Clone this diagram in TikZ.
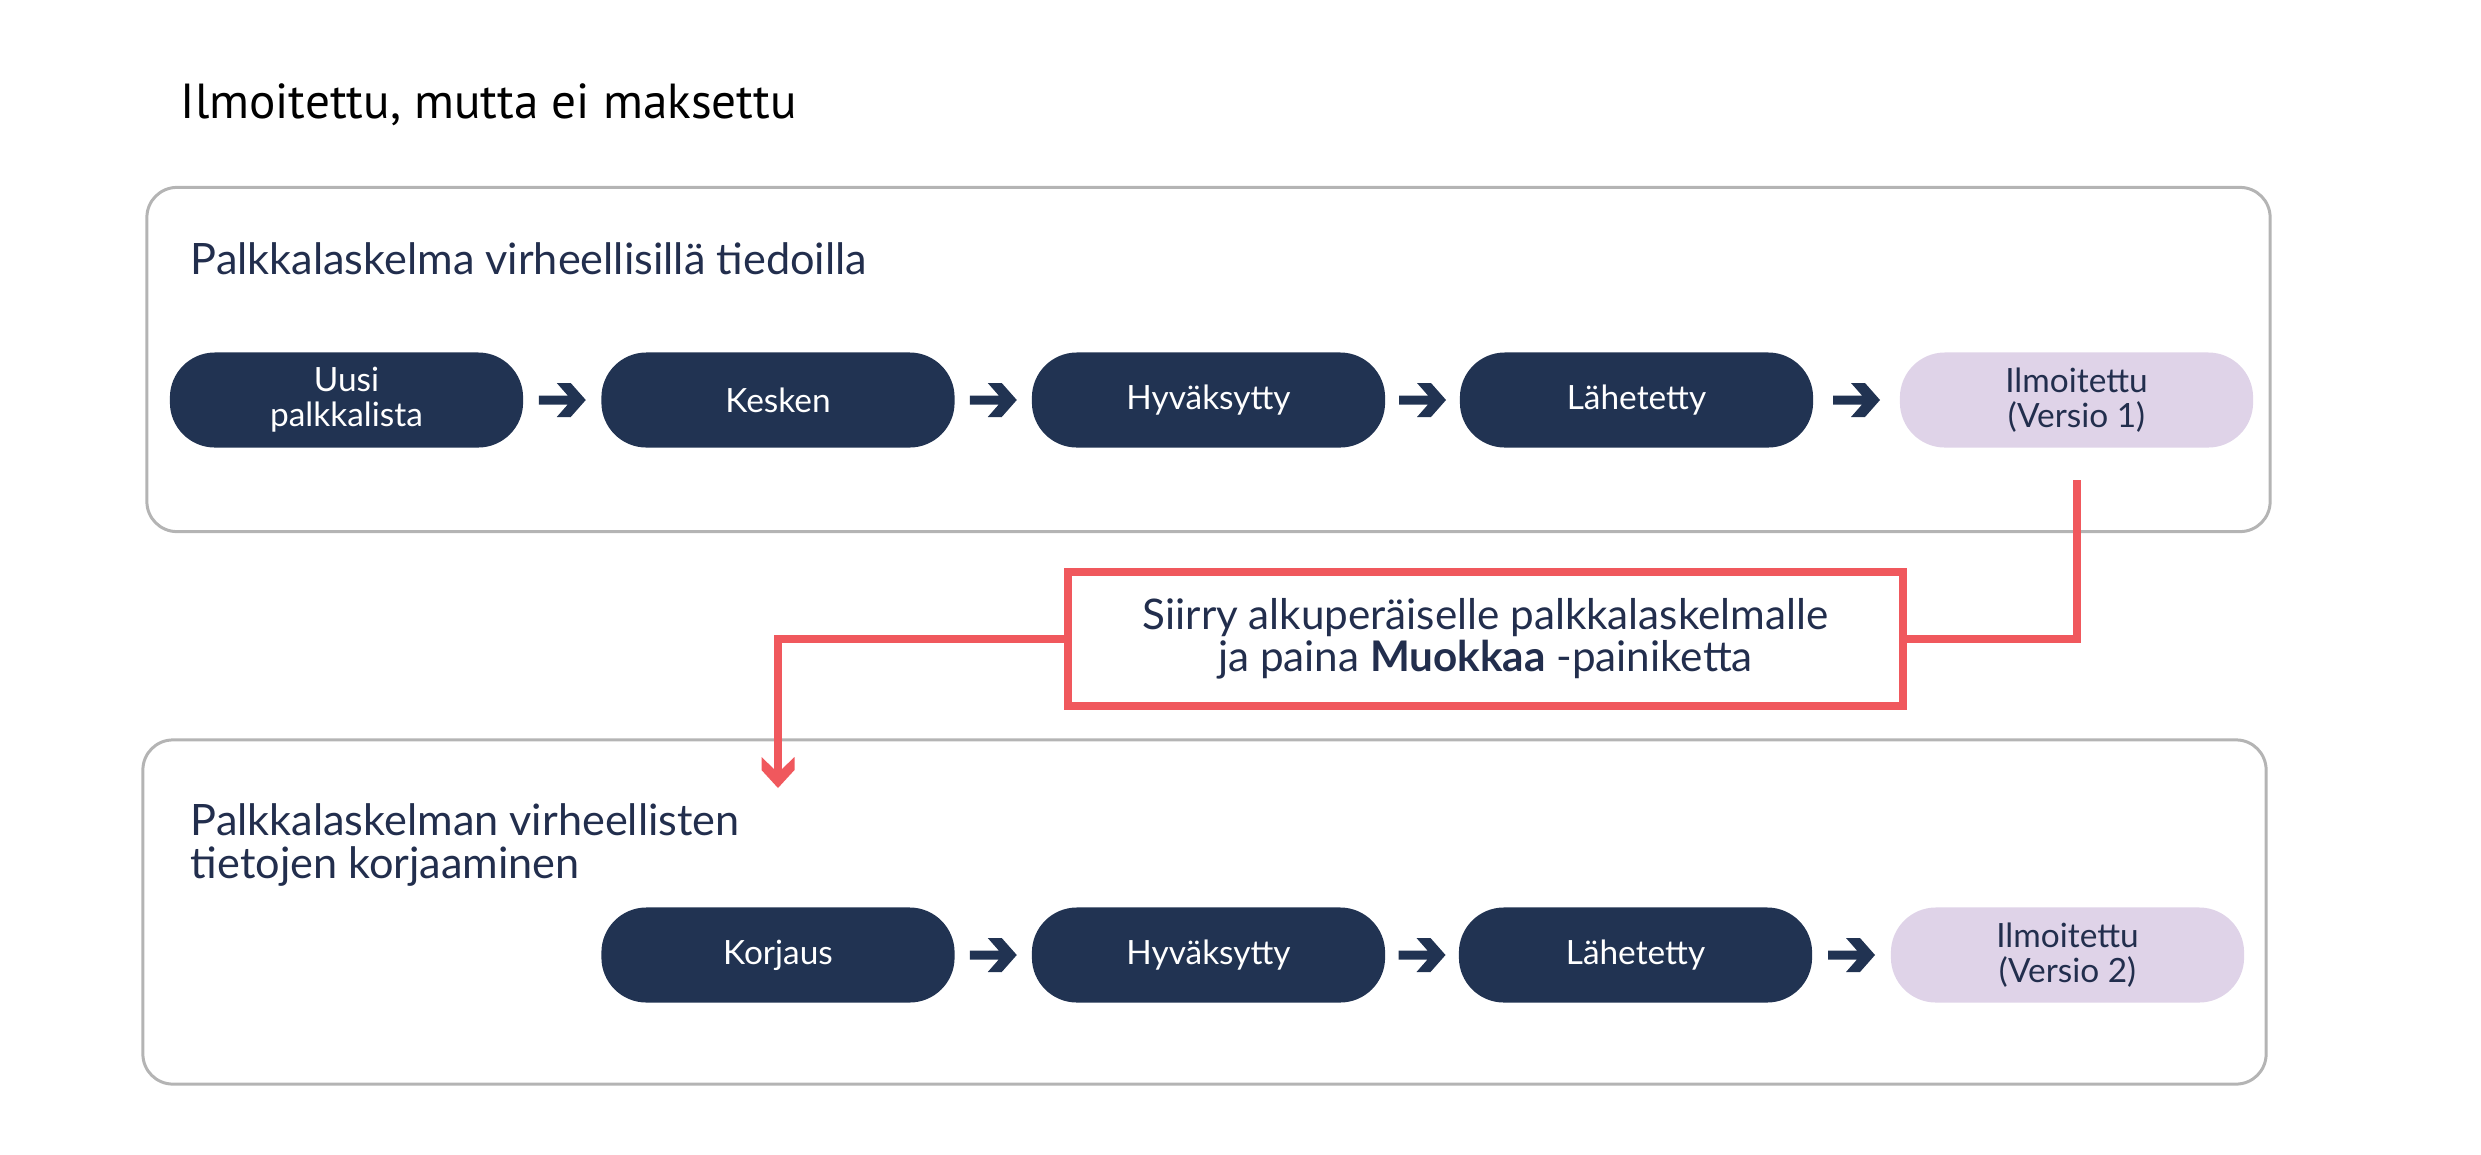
\documentclass[tikz,border=0pt]{standalone}
\usepackage{fontspec}
\setmainfont{Lato}
\newfontfamily\titlefont{PT Sans}
\usetikzlibrary{decorations.markings}
\definecolor{navy}{HTML}{213352}
\definecolor{lilac}{HTML}{DFD3E8}
\definecolor{redc}{HTML}{F0585D}
\definecolor{framec}{HTML}{B4B4B4}
\definecolor{ink}{HTML}{222E4D}
\begin{document}
\begin{tikzpicture}[x=0.01cm,y=-0.01cm,
  pill/.style={rounded corners=0.45cm, minimum width=3.53cm, minimum height=0.95cm, inner sep=0pt, align=center, font=\fontsize{9.5}{10}\selectfont},
  darkpill/.style={pill, fill=navy, text=white},
  lightpill/.style={pill, fill=lilac, text=ink},
  container/.style={draw=framec, line width=0.03cm, rounded corners=0.3cm, minimum width=21.22cm, minimum height=3.44cm, inner sep=0pt},
  heading/.style={anchor=base west, text=ink, font=\fontsize{12.3}{12}\selectfont, align=left, inner sep=0pt},
  notebox/.style={draw=redc, line width=0.08cm, fill=white, minimum width=8.35cm, minimum height=1.34cm, text=ink, align=center, inner sep=0pt, font=\fontsize{12}{12}\selectfont},
  redline/.style={draw=redc, line width=0.08cm},
  flow/.style={draw=none, postaction={decorate}, decoration={markings, mark=at position 0.5 with {\fill[navy] (-23.5,-4.5) -- (5.5,-4.5) -- (-5.5,-17) -- (8.5,-17) -- (23.5,0) -- (8.5,17) -- (-5.5,17) -- (5.5,4.5) -- (-23.5,4.5) -- cycle;}}},
  redhead/.style={postaction={decorate}, decoration={markings, mark=at position 1 with {\fill[redc] (-12,-16.5) -- (1,-16.5) -- (19,0) -- (1,16.5) -- (-12,16.5) -- (0,4) -- (0,-4) -- cycle;}}}
]
\useasboundingbox (0,0) rectangle (2481,1154);

\node[anchor=base west, inner sep=0pt, font=\titlefont\fontsize{14}{16}\selectfont] (title) at (180,118) {Ilmoitettu, mutta ei maksettu};

% containers
\node[container] (topbox) at (1208.5,359.5) {};
\node[container] (botbox) at (1204.5,912) {};

\node[heading] (h1) at (190,274) {Palkkalaskelma virheellisillä tiedoilla};
\node[heading] (h2) at (190,878) {Palkkalaskelman virheellisten\\tietojen korjaaminen};

% row 1
\node[darkpill] (a1) at (346.5,400) {Uusi\\palkkalista};
\node[darkpill] (a2) at (778,400) {Kesken};
\node[darkpill] (a3) at (1208.5,400) {Hyväksytty};
\node[darkpill] (a4) at (1636.5,400) {Lähetetty};
\node[lightpill] (a5) at (2076.5,400) {Ilmoitettu\\(Versio 1)};

% row 2
\node[darkpill] (b1) at (778,955) {Korjaus};
\node[darkpill] (b2) at (1208.5,955) {Hyväksytty};
\node[darkpill] (b3) at (1635.5,955) {Lähetetty};
\node[lightpill] (b4) at (2067.5,955) {Ilmoitettu\\(Versio 2)};

\draw[flow] (a1) -- (a2);
\draw[flow] (a2) -- (a3);
\draw[flow] (a3) -- (a4);
\draw[flow] (a4) -- (a5);
\draw[flow] (b1) -- (b2);
\draw[flow] (b2) -- (b3);
\draw[flow] (b3) -- (b4);

% note
\node[notebox] (note) at (1485.5,639) {Siirry alkuperäiselle palkkalaskelmalle\\ja paina \textbf{Muokkaa} -painiketta};
\coordinate (tgt) at (778,769);
\draw[redline, shorten <=0.32cm] (a5.south) |- (note.east);
\draw[redline, redhead] (note.west) -| (tgt);
\end{tikzpicture}
\end{document}
